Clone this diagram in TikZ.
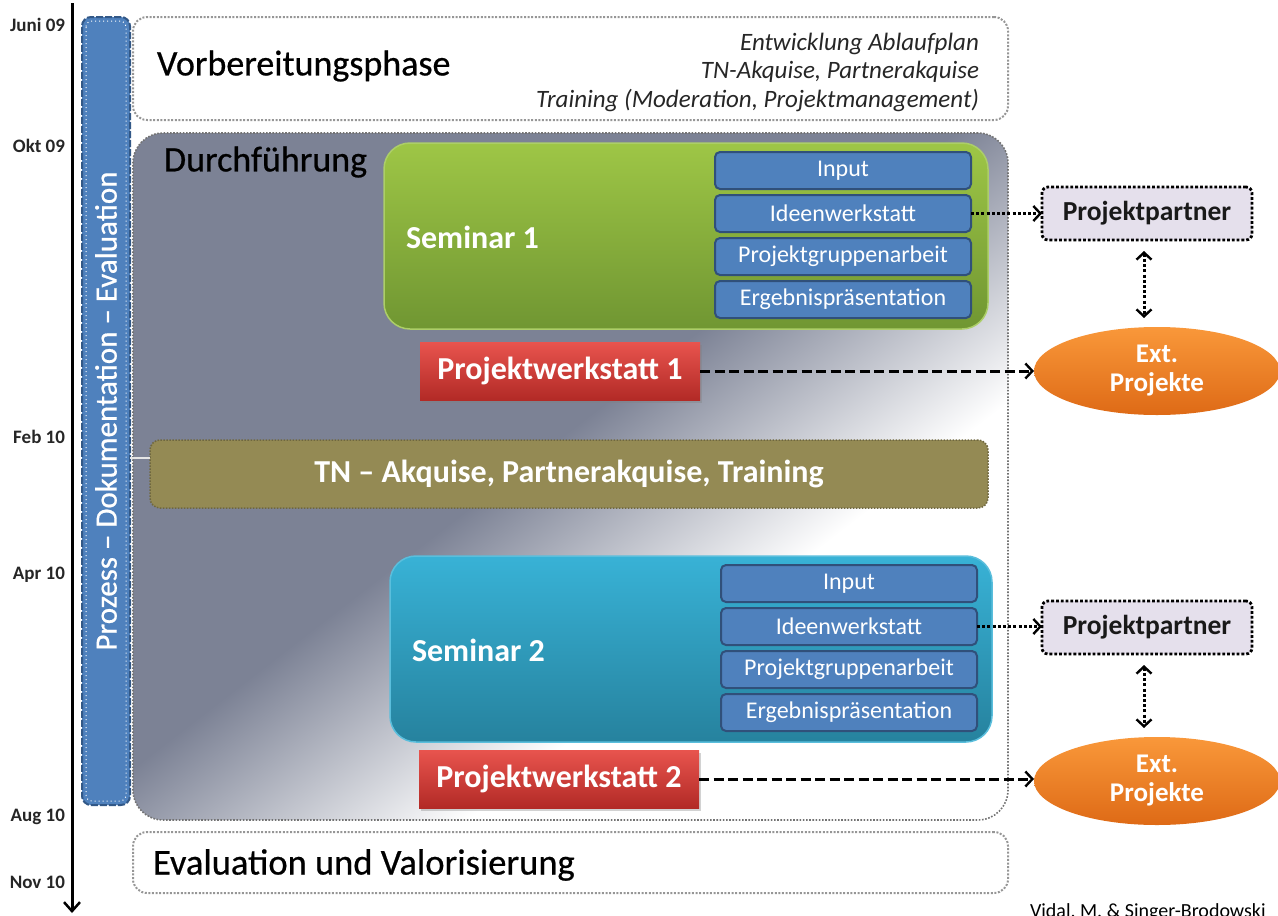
\documentclass[tikz,border=0pt]{standalone}
\usepackage{fontspec}
\setmainfont{Carlito}
\newfontfamily\heavyfont[FakeBold=0.6]{Carlito}
\usetikzlibrary{arrows.meta,shapes.geometric,shadows}
\definecolor{dgray}{RGB}{124,130,149}
\definecolor{barblue}{RGB}{79,129,189}
\definecolor{barborder}{RGB}{50,88,135}
\definecolor{subborder}{RGB}{48,80,122}
\definecolor{grtop}{RGB}{158,198,70}
\definecolor{grbot}{RGB}{112,150,50}
\definecolor{grline}{RGB}{172,206,104}
\definecolor{cytop}{RGB}{56,178,214}
\definecolor{cybot}{RGB}{38,130,158}
\definecolor{cyline}{RGB}{90,190,220}
\definecolor{rdtop}{RGB}{232,84,78}
\definecolor{rdbot}{RGB}{178,42,38}
\definecolor{ortop}{RGB}{249,152,58}
\definecolor{orbot}{RGB}{222,106,22}
\definecolor{olive}{RGB}{148,138,84}
\definecolor{lav}{RGB}{229,224,236}
\definecolor{phline}{RGB}{150,150,150}
\begin{document}
\begin{tikzpicture}[x=1pt,y=-1pt,
  every node/.style={inner sep=0pt, outer sep=0pt},
  phasebox/.style={anchor=north west, draw=phline, line width=2pt, dash pattern=on 2pt off 1.6pt, rounded corners=14pt},
  datelbl/.style={anchor=east, font=\bfseries\fontsize{19}{19}\selectfont, text=black!85},
  subbox/.style={anchor=north west, minimum width=256, minimum height=37, fill=barblue, draw=subborder, line width=2pt, rounded corners=5pt, text=white, font=\fontsize{24}{24}\selectfont},
  semtxt/.style={anchor=west, text=white, font=\bfseries\fontsize{32}{32}\selectfont},
  pwbox/.style={anchor=north west, minimum width=280, minimum height=58, top color=rdtop, bottom color=rdbot, text=white, font=\bfseries\fontsize{32}{32}\selectfont, drop shadow={opacity=0.35, shadow xshift=2pt, shadow yshift=-3pt}},
  ppbox/.style={anchor=north west, minimum width=210, minimum height=53, fill=lav, draw=black, line width=2.8pt, dash pattern=on 2.8pt off 2pt, rounded corners=6pt, text=black!90, font=\bfseries\fontsize{27.5}{27.5}\selectfont},
  extell/.style={ellipse, minimum width=246, minimum height=88, top color=ortop, bottom color=orbot, text=white, align=center, font=\bfseries\fontsize{27}{29}\selectfont},
  tipb/.tip={Straight Barb[length=7pt,width=15pt,line width=2.4pt]},
  dotarrow/.style={line width=3pt, dash pattern=on 3pt off 2.2pt, -tipb},
  dblarrow/.style={line width=3pt, dash pattern=on 3pt off 2.2pt, tipb-tipb},
  dasharrow/.style={line width=3pt, dash pattern=on 10pt off 4.5pt, -tipb}
]
\useasboundingbox (0,0) rectangle (1278,916);

% time line
\coordinate (tltop) at (72,3);
\coordinate (tlbot) at (72,913);
\draw[line width=3pt, -{Straight Barb[length=9pt,width=16pt,line width=2.5pt]}] (tltop) -- (tlbot);
\node[datelbl] (d1) at (65,25) {Juni 09};
\node[datelbl] (d2) at (65,146) {Okt 09};
\node[datelbl] (d3) at (65,437) {Feb 10};
\node[datelbl] (d4) at (65,575) {Apr 10};
\node[datelbl] (d5) at (65,817) {Aug 10};
\node[datelbl] (d6) at (65,882) {Nov 10};

% Durchfuehrung background
\begin{scope}
  \clip[rounded corners=30pt] (133,133) rectangle (1008,820);
  \fill[white] (133,133) rectangle (1008,820);
  \fill[dgray, transform canvas={rotate=-52.3}] (-3000,-3000) rectangle (690,3000);
  \shade[transform canvas={rotate=-52.3}, left color=dgray, right color=white] (689,-3000) rectangle (935,3000);
\end{scope}
\node[anchor=north west, minimum width=875, minimum height=687, rounded corners=30pt, draw=black!55, line width=1.6pt, dash pattern=on 1.6pt off 1.6pt] (durch) at (133,133) {};
\node[anchor=west, font=\heavyfont\fontsize{36}{36}\selectfont] (durcht) at (164,162) {Durchführung};

% blue bar
\node[anchor=north west, minimum width=48, minimum height=788, fill=barblue, draw=barborder, line width=2pt, dash pattern=on 7pt off 2pt, rounded corners=9pt] (bar) at (82,17) {};
\draw[white, line width=1pt, dash pattern=on 1pt off 3pt, rounded corners=6pt] ([shift={(4,4)}]bar.north west) rectangle ([shift={(-4,-4)}]bar.south east);
\node[rotate=90, text=white, font=\heavyfont\fontsize{31}{31}\selectfont] (bart) at (bar.center) {Prozess – Dokumentation – Evaluation};

% Vorbereitungsphase
\node[phasebox, minimum width=875, minimum height=103] (vorb) at (133,17) {};
\node[anchor=west, font=\heavyfont\fontsize{36}{36}\selectfont] (vorbt) at (157,66) {Vorbereitungsphase};
\node[anchor=east, align=right, font=\itshape\fontsize{25}{28.5}\selectfont, text=black!85] (vorbi) at (979,72) {Entwicklung Ablaufplan\\TN-Akquise, Partnerakquise\\Training (Moderation, Projektmanagement)};

% Seminar 1
\node[anchor=north west, minimum width=604, minimum height=186, rounded corners=26pt, top color=grtop, bottom color=grbot, draw=grline, line width=1.5pt] (sem1) at (384,143) {};
\node[semtxt] (sem1t) at (406,237) {Seminar 1};
\node[subbox] (in1) at (715,152) {Input};
\node[subbox] (id1) at (715,195) {Ideenwerkstatt};
\node[subbox] (pg1) at (715,238) {Projektgruppenarbeit};
\node[subbox] (er1) at (715,281) {Ergebnispräsentation};
\node[pwbox] (pw1) at (420,342) {Projektwerkstatt 1};

% TN box
\node[anchor=north west, minimum width=838, minimum height=68, fill=olive, draw=olive!75!black, line width=1.5pt, dash pattern=on 1.5pt off 1.5pt, rounded corners=10pt, text=white, font=\bfseries\fontsize{32}{32}\selectfont] (tn) at (150,440) {TN – Akquise, Partnerakquise, Training};
\coordinate (tnl) at (0,458);
\draw[white!80!gray, line width=1.2pt] (bar.east |- tnl) -- (tn.west |- tnl);

% Seminar 2
\node[anchor=north west, minimum width=602, minimum height=186, rounded corners=26pt, top color=cytop, bottom color=cybot, draw=cyline, line width=1.5pt] (sem2) at (390,556) {};
\node[semtxt] (sem2t) at (412,650) {Seminar 2};
\node[subbox] (in2) at (721,565) {Input};
\node[subbox] (id2) at (721,608) {Ideenwerkstatt};
\node[subbox] (pg2) at (721,651) {Projektgruppenarbeit};
\node[subbox] (er2) at (721,694) {Ergebnispräsentation};
\node[pwbox] (pw2) at (419,750) {Projektwerkstatt 2};

% Evaluation
\node[phasebox, minimum width=875, minimum height=61] (evalb) at (133,832) {};
\node[anchor=west, font=\heavyfont\fontsize{36.5}{36.5}\selectfont] (evalt) at (153,865) {Evaluation und Valorisierung};

% right side
\node[ppbox] (pp1) at (1042,187) {Projektpartner};
\node[extell] (ext1) at (1157,371) {Ext.\\Projekte};
\node[ppbox] (pp2) at (1042,601) {Projektpartner};
\node[extell] (ext2) at (1157,781) {Ext.\\Projekte};

\draw[dotarrow] (id1.east) -- (id1.east -| pp1.west);
\draw[dotarrow] (id2.east) -- (id2.east -| pp2.west);
\draw[dasharrow] (pw1.east) -- (pw1.east -| ext1.west);
\draw[dasharrow] (pw2.east) -- (pw2.east -| ext2.west);
\draw[dblarrow, shorten <=11pt, shorten >=9pt] ([xshift=-3pt]pp1.south) -- ([xshift=-3pt]pp1.south |- ext1.north);
\draw[dblarrow, shorten <=11pt, shorten >=9pt] ([xshift=-3pt]pp2.south) -- ([xshift=-3pt]pp2.south |- ext2.north);

% source
\node[anchor=north west, font=\fontsize{20}{20}\selectfont] (src) at (1030,904) {Vidal, M. \& Singer-Brodowski};
\end{tikzpicture}
\end{document}
